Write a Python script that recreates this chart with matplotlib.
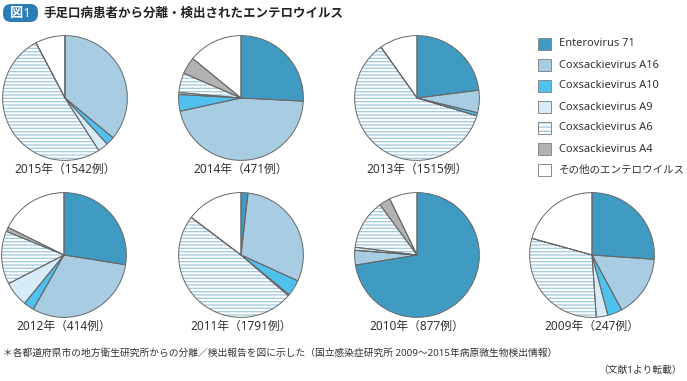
import matplotlib.pyplot as plt
from matplotlib.patches import FancyBboxPatch, Rectangle

plt.rcParams['font.family'] = ['Noto Sans', 'Noto Sans CJK JP', 'DejaVu Sans']
plt.rcParams['hatch.linewidth'] = 0.9

# 系列: EV71, A16, A10, A9, A6, A4, その他
series = ['Enterovirus 71', 'Coxsackievirus A16', 'Coxsackievirus A10',
          'Coxsackievirus A9', 'Coxsackievirus A6', 'Coxsackievirus A4',
          'その他のエンテロウイルス']
colors = ['#3f9bc2', '#a8cde2', '#4fc1ee', '#d6edf9', '#ffffff', '#b2b2b2', '#ffffff']

labels = ['2015年（1542例）', '2014年（471例）', '2013年（1515例）',
          '2012年（414例）', '2011年（1791例）', '2010年（877例）', '2009年（247例）']

v2015 = [0, 36.0, 2.2, 2.7, 51.4, 0, 7.7]
v2014 = [25.8, 45.8, 4.3, 0.5, 5.1, 4.4, 14.1]
v2013 = [23.0, 5.8, 0.8, 0, 60.6, 0, 9.8]
v2012 = [27.5, 30.7, 2.7, 6.5, 13.8, 1.1, 17.7]
v2011 = [1.8, 30.0, 4.2, 0.3, 49.0, 0, 14.7]
v2010 = [72.4, 3.8, 0, 0.8, 12.9, 2.9, 7.2]
v2009 = [26.1, 16.0, 3.8, 3.0, 30.4, 0, 20.7]
data = [v2015, v2014, v2013, v2012, v2011, v2010, v2009]

# 中心座標 (px)
centers = [(65, 98), (241, 98), (417, 98),
           (64, 255), (241, 255), (417, 255), (592, 255)]
R = 63
W, H = 687, 381
hatch_col = '#9ec8e2'
edge_col = '#666666'

fig = plt.figure(figsize=(W / 100, H / 100), dpi=100)

for vals, lab, (cx, cy) in zip(data, labels, centers):
    ax = fig.add_axes([(cx - R) / W, 1 - (cy + R) / H, 2 * R / W, 2 * R / H])
    wedges, _ = ax.pie(vals, colors=colors, startangle=90, counterclock=False,
                       wedgeprops=dict(linewidth=0))
    wedges[4].set_hatch('-----')
    wedges[4].set_edgecolor(hatch_col)
    wedges[4].set_linewidth(0)
    # 輪郭線
    ax.pie(vals, colors=['none'] * 7, startangle=90, counterclock=False,
           wedgeprops=dict(linewidth=0.7, edgecolor=edge_col, fill=False))
    ax.set_xlim(-1.01, 1.01)
    ax.set_ylim(-1.01, 1.01)
    ax.set_aspect('equal')
    ax.axis('off')
    fig.text(cx / W, 1 - (cy + R + 8) / H, lab, ha='center', va='center',
             fontsize=8.5, color='#333333')

tax = fig.add_axes([0, 0, 1, 1])
tax.set_xlim(0, W)
tax.set_ylim(H, 0)
tax.axis('off')

# 凡例
for i, (name, c) in enumerate(zip(series, colors)):
    y = 44 + i * 21
    if i == 4:
        tax.add_patch(Rectangle((538, y - 6), 13, 12, facecolor='white',
                                edgecolor=hatch_col, hatch='----', linewidth=0))
        tax.add_patch(Rectangle((538, y - 6), 13, 12, fill=False,
                                edgecolor='#888888', linewidth=0.7))
    else:
        tax.add_patch(Rectangle((538, y - 6), 13, 12, facecolor=c,
                                edgecolor='#888888', linewidth=0.7))
    fig.text(559 / W, 1 - y / H, name, ha='left', va='center',
             fontsize=7.6 if i == 6 else 8, color='#333333')

# タイトル
tax.add_patch(FancyBboxPatch((3, 4), 35, 18, boxstyle='round,pad=0,rounding_size=8',
                             facecolor='#2a7db5', edgecolor='none'))
tax.text(20.5, 13.5, '図1', color='white', fontsize=9.5, fontweight='bold',
         ha='center', va='center')
tax.text(43, 13.5, '手足口病患者から分離・検出されたエンテロウイルス', fontsize=9,
         fontweight='bold', ha='left', va='center', color='#222222')

tax.text(3, 353, '＊各都道府県市の地方衛生研究所からの分離／検出報告を図に示した（国立感染症研究所 2009～2015年病原微生物検出情報）',
         fontsize=7, ha='left', va='center', color='#333333')
tax.text(682, 370, '（文献1より転載）', fontsize=7, ha='right', va='center',
         color='#333333')

fig.savefig('out.png', dpi=100)
